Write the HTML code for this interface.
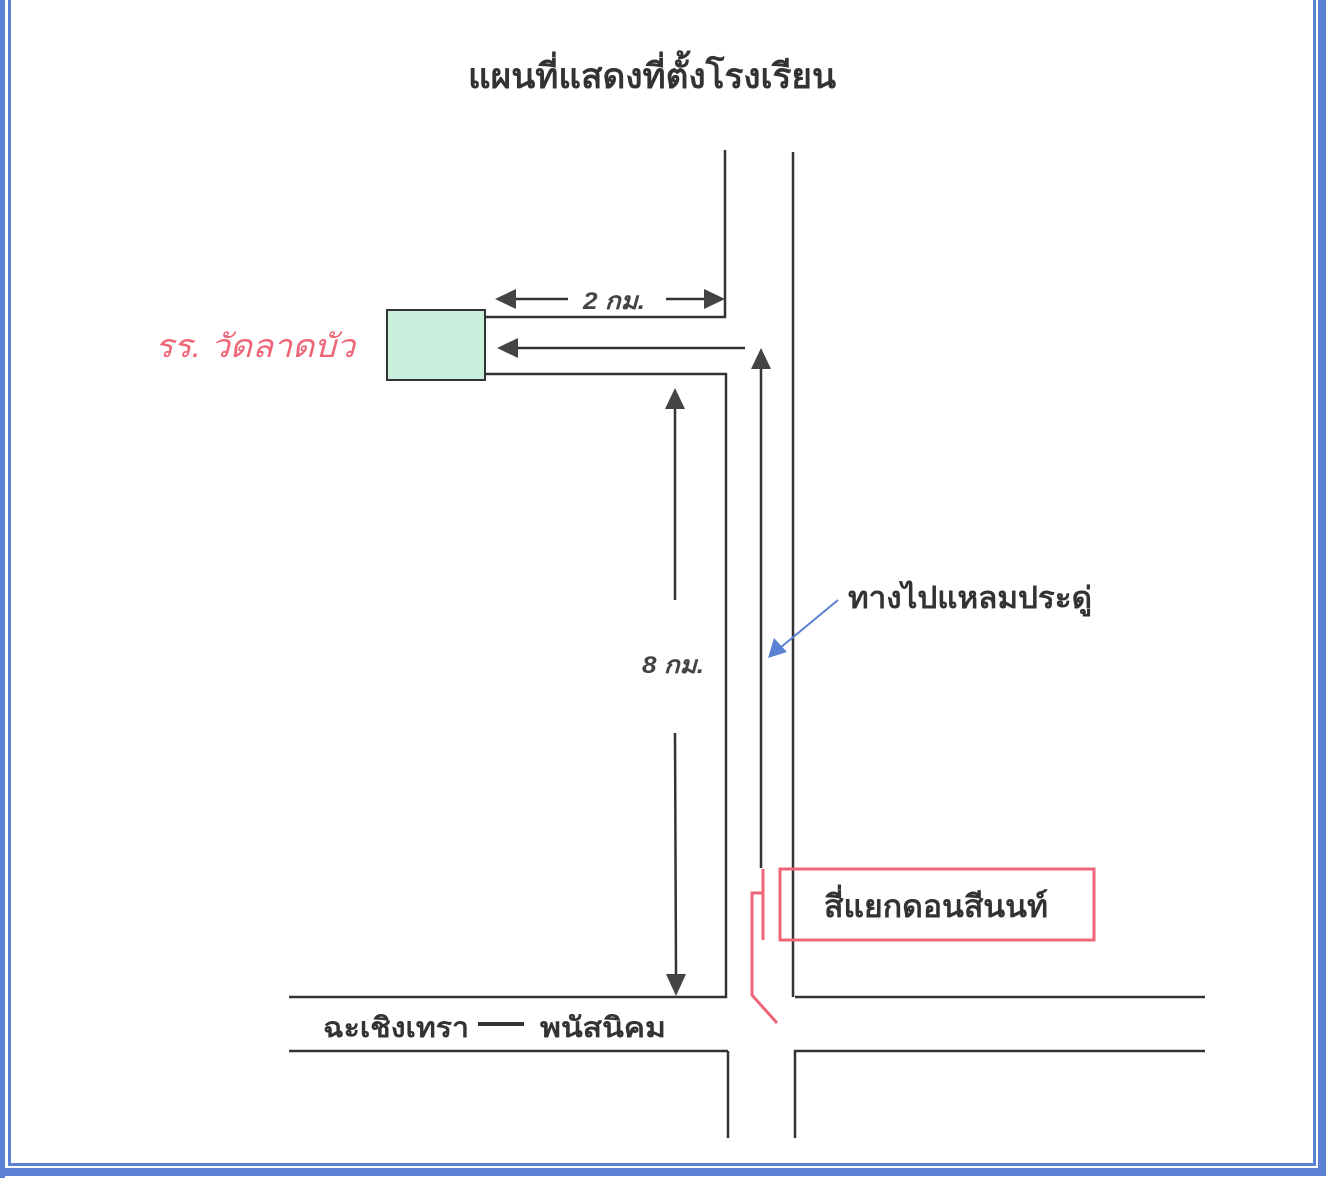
<!DOCTYPE html>
<html><head><meta charset="utf-8"><style>
html,body{margin:0;padding:0;background:#fff;}
svg{display:block;}
text{font-family:"Liberation Sans","DejaVu Sans",sans-serif;}
</style></head><body>
<svg width="1335" height="1191" viewBox="0 0 1335 1191" xmlns="http://www.w3.org/2000/svg">
<rect width="1335" height="1191" fill="#fff"/>
<g fill="#5b82d2">
<rect x="0" y="0" width="5" height="1178"/>
<rect x="8" y="0" width="3" height="1166"/>
<rect x="8" y="1163" width="1308" height="3"/>
<rect x="0" y="1168" width="1326" height="8"/>
<rect x="1313" y="0" width="3" height="1166"/>
<rect x="1318" y="0" width="8" height="1176"/>
</g>
<text x="652" y="88" font-size="35" text-anchor="middle" fill="#333" font-weight="bold" textLength="368" lengthAdjust="spacingAndGlyphs">แผนที่แสดงที่ตั้งโรงเรียน</text>
<g stroke="#333" stroke-width="2.5" fill="none">
<polyline points="725,150 725,317 485,317"/>
<polyline points="485,374 726,374 726,997 289,997"/>
<line x1="793" y1="152" x2="793" y2="997"/>
<line x1="795" y1="997" x2="1205" y2="997"/>
<line x1="289" y1="1051" x2="728" y2="1051"/>
<line x1="728" y1="1051" x2="728" y2="1138"/>
<polyline points="1205,1051 795,1051 795,1138"/>
<line x1="515" y1="299" x2="568" y2="299"/>
<line x1="666" y1="299" x2="705" y2="299"/>
<line x1="515" y1="348" x2="745" y2="348"/>
<line x1="761" y1="868" x2="761" y2="368"/>
<line x1="675" y1="405" x2="675" y2="600"/>
<line x1="675" y1="733" x2="676" y2="975"/>
</g>
<g fill="#444">
<polygon points="495,299 516,289 516,309"/>
<polygon points="725,299 704,289 704,309"/>
<polygon points="497,348 518,338 518,358"/>
<polygon points="761,348 751,369 771,369"/>
<polygon points="675,388 665,409 685,409"/>
<polygon points="676,996 666,974 686,974"/>
</g>
<rect x="387" y="310" width="98" height="70" fill="#c8f0dc" stroke="#333" stroke-width="2"/>
<text x="155" y="357" font-size="32" font-style="italic" fill="#ee6677" textLength="200" lengthAdjust="spacingAndGlyphs">รร. วัดลาดบัว</text>
<text x="583" y="309" font-size="24" font-style="italic" font-weight="bold" fill="#444" textLength="62" lengthAdjust="spacingAndGlyphs">2 กม.</text>
<text x="642" y="673" font-size="24" font-style="italic" font-weight="bold" fill="#444" textLength="62" lengthAdjust="spacingAndGlyphs">8 กม.</text>
<text x="848" y="608" font-size="30" font-weight="bold" fill="#333" textLength="244" lengthAdjust="spacingAndGlyphs">ทางไปแหลมประดู่</text>
<line x1="838" y1="600" x2="780" y2="648" stroke="#5b82d2" stroke-width="2"/>
<polygon points="768,658 774,638 787,652" fill="#5b82d2"/>
<rect x="780" y="869" width="314" height="71" fill="none" stroke="#ee6677" stroke-width="3"/>
<text x="824" y="917" font-size="31" font-weight="bold" fill="#333" textLength="224" lengthAdjust="spacingAndGlyphs">สี่แยกดอนสีนนท์</text>
<g stroke="#ee6677" stroke-width="3" fill="none">
<line x1="763" y1="869" x2="763" y2="940"/>
<polyline points="763,893 752,893 752,995 777,1023"/>
</g>
<text x="323" y="1037" font-size="28" font-weight="bold" fill="#333" textLength="146" lengthAdjust="spacingAndGlyphs">ฉะเชิงเทรา</text>
<rect x="478" y="1022" width="46" height="4" fill="#333"/>
<text x="540" y="1037" font-size="28" font-weight="bold" fill="#333" textLength="126" lengthAdjust="spacingAndGlyphs">พนัสนิคม</text>
</svg>
</body></html>
